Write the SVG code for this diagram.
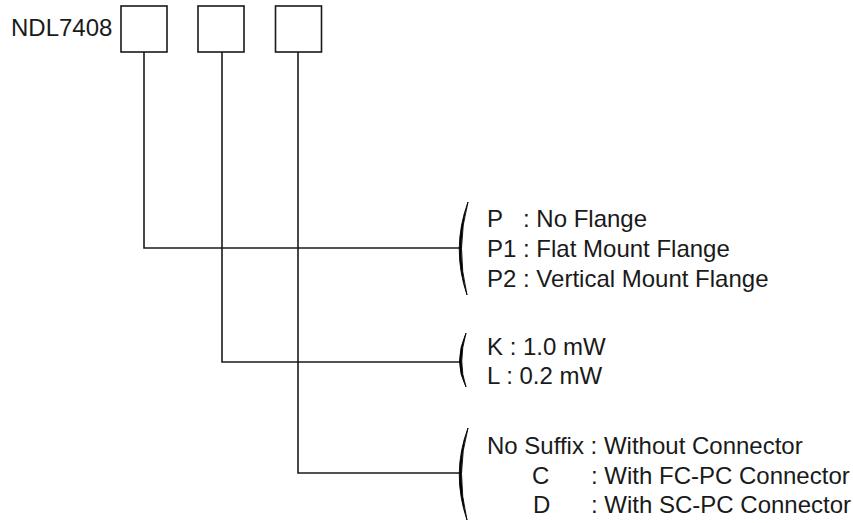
<svg xmlns="http://www.w3.org/2000/svg" width="853" height="523" viewBox="0 0 853 523">
<style>
text{font-family:"Liberation Sans",Arial,sans-serif;font-size:24px;fill:#1a1a1a}
.box{fill:#fff;stroke:#1a1a1a;stroke-width:1.6}
.wire{fill:none;stroke:#1a1a1a;stroke-width:1.6}
.brk{fill:#000;stroke:#000;stroke-width:0.9;stroke-linejoin:round}
</style>
<rect width="853" height="523" fill="#fff"/>
<g id="title"><text x="11" y="36">NDL7408</text></g>
<g id="box1"><rect class="box" x="121" y="6" width="46" height="46"/></g>
<g id="box2"><rect class="box" x="198" y="6" width="46" height="46"/></g>
<g id="box3"><rect class="box" x="275.5" y="6" width="46" height="46"/></g>
<g id="connectors">
<path class="wire" d="M144,52 V248 H460"/>
<path class="wire" d="M222,52 V362 H460"/>
<path class="wire" d="M298,52 V473 H460"/>
</g>
<g id="flange">
<path class="brk" d="M468,202 Q451,248 467,295 Q455.5,248 468,202 Z"/>
<text x="487" y="227">P</text><text x="523" y="227">: No Flange</text>
<text x="487" y="257">P1 : Flat Mount Flange</text>
<text x="487" y="287">P2 : Vertical Mount Flange</text>
</g>
<g id="power">
<path class="brk" d="M466,333 Q453,362 466,387 Q457.5,362 466,333 Z"/>
<text x="487" y="355">K : 1.0 mW</text>
<text x="487" y="384">L : 0.2 mW</text>
</g>
<g id="connector">
<path class="brk" d="M468,428 Q451,473 467,520 Q455.5,473 468,428 Z"/>
<text x="487" y="454">No Suffix : Without Connector</text>
<text x="532" y="484">C</text><text x="591" y="484">: With FC-PC Connector</text>
<text x="533" y="513">D</text><text x="591" y="513">: With SC-PC Connector</text>
</g>
</svg>
